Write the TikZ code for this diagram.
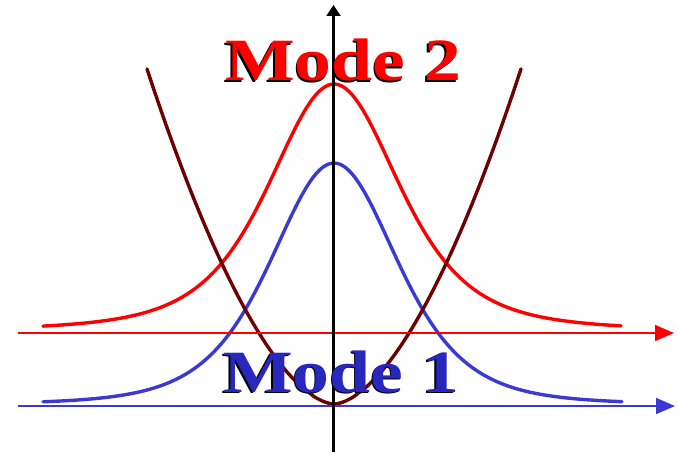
\documentclass[tikz,border=0pt]{standalone}
\usepackage{fontspec}
\setmainfont{Liberation Serif}
\usetikzlibrary{arrows.meta}
\definecolor{modered}{RGB}{255,0,0}
\definecolor{modeblue}{RGB}{58,58,210}
\definecolor{textblue}{RGB}{40,40,190}
\definecolor{darkred}{RGB}{110,0,0}
\tikzset{
  curve/.style={line width=3.4pt, line cap=round},
  modelabel/.style={anchor=base west, inner sep=0pt, font=\fontsize{60}{60}\selectfont\bfseries}
}
\begin{document}
\begin{tikzpicture}[x=1pt,y=-1pt]
\useasboundingbox (0,0) rectangle (679,457);
% coordinates
\coordinate (vb) at (333.5,452);
\coordinate (vt) at (333.5,5);
\coordinate (rl) at (18,333);
\coordinate (rr) at (674,333);
\coordinate (bl) at (18,406);
\coordinate (br) at (675,406);
% curves
\draw[curve, modered] plot[domain=-291:287, samples=200]
  ({334+\x}, {333 - 199*4/(exp(\x/82)+exp(-\x/82))^2 - 50/(1+(\x/110)^2)});
\draw[curve, modeblue] plot[domain=-291:288, samples=200]
  ({334+\x}, {406 - 215*4/(exp(\x/82)+exp(-\x/82))^2 - 28/(1+(\x/110)^2)});
\draw[curve, darkred] plot[domain=-187:187, samples=120]
  ({334+\x}, {404 - 335*pow(abs(\x)/187+0.0001,1.7)});
% axes
\draw[modered, line width=1.7pt, -{Triangle[length=19pt,width=16pt]}] (rl) -- (rr);
\draw[modeblue, line width=1.7pt, -{Triangle[length=19pt,width=16pt]}] (bl) -- (br);
\draw[black, line width=2.3pt, -{Triangle[length=11pt,width=14pt]}] (vb) -- (vt);
% labels
\node[modelabel, text=black] (m2s) at (223.5,82.5) {\scalebox{1.23}[1]{Mode 2}};
\node[modelabel, text=modered] (m2) at (225,81) {\scalebox{1.23}[1]{Mode 2}};
\node[modelabel, text=black] (m1s) at (221.5,393.5) {\scalebox{1.23}[1]{Mode 1}};
\node[modelabel, text=textblue] (m1) at (223,392) {\scalebox{1.23}[1]{Mode 1}};
\end{tikzpicture}
\end{document}
